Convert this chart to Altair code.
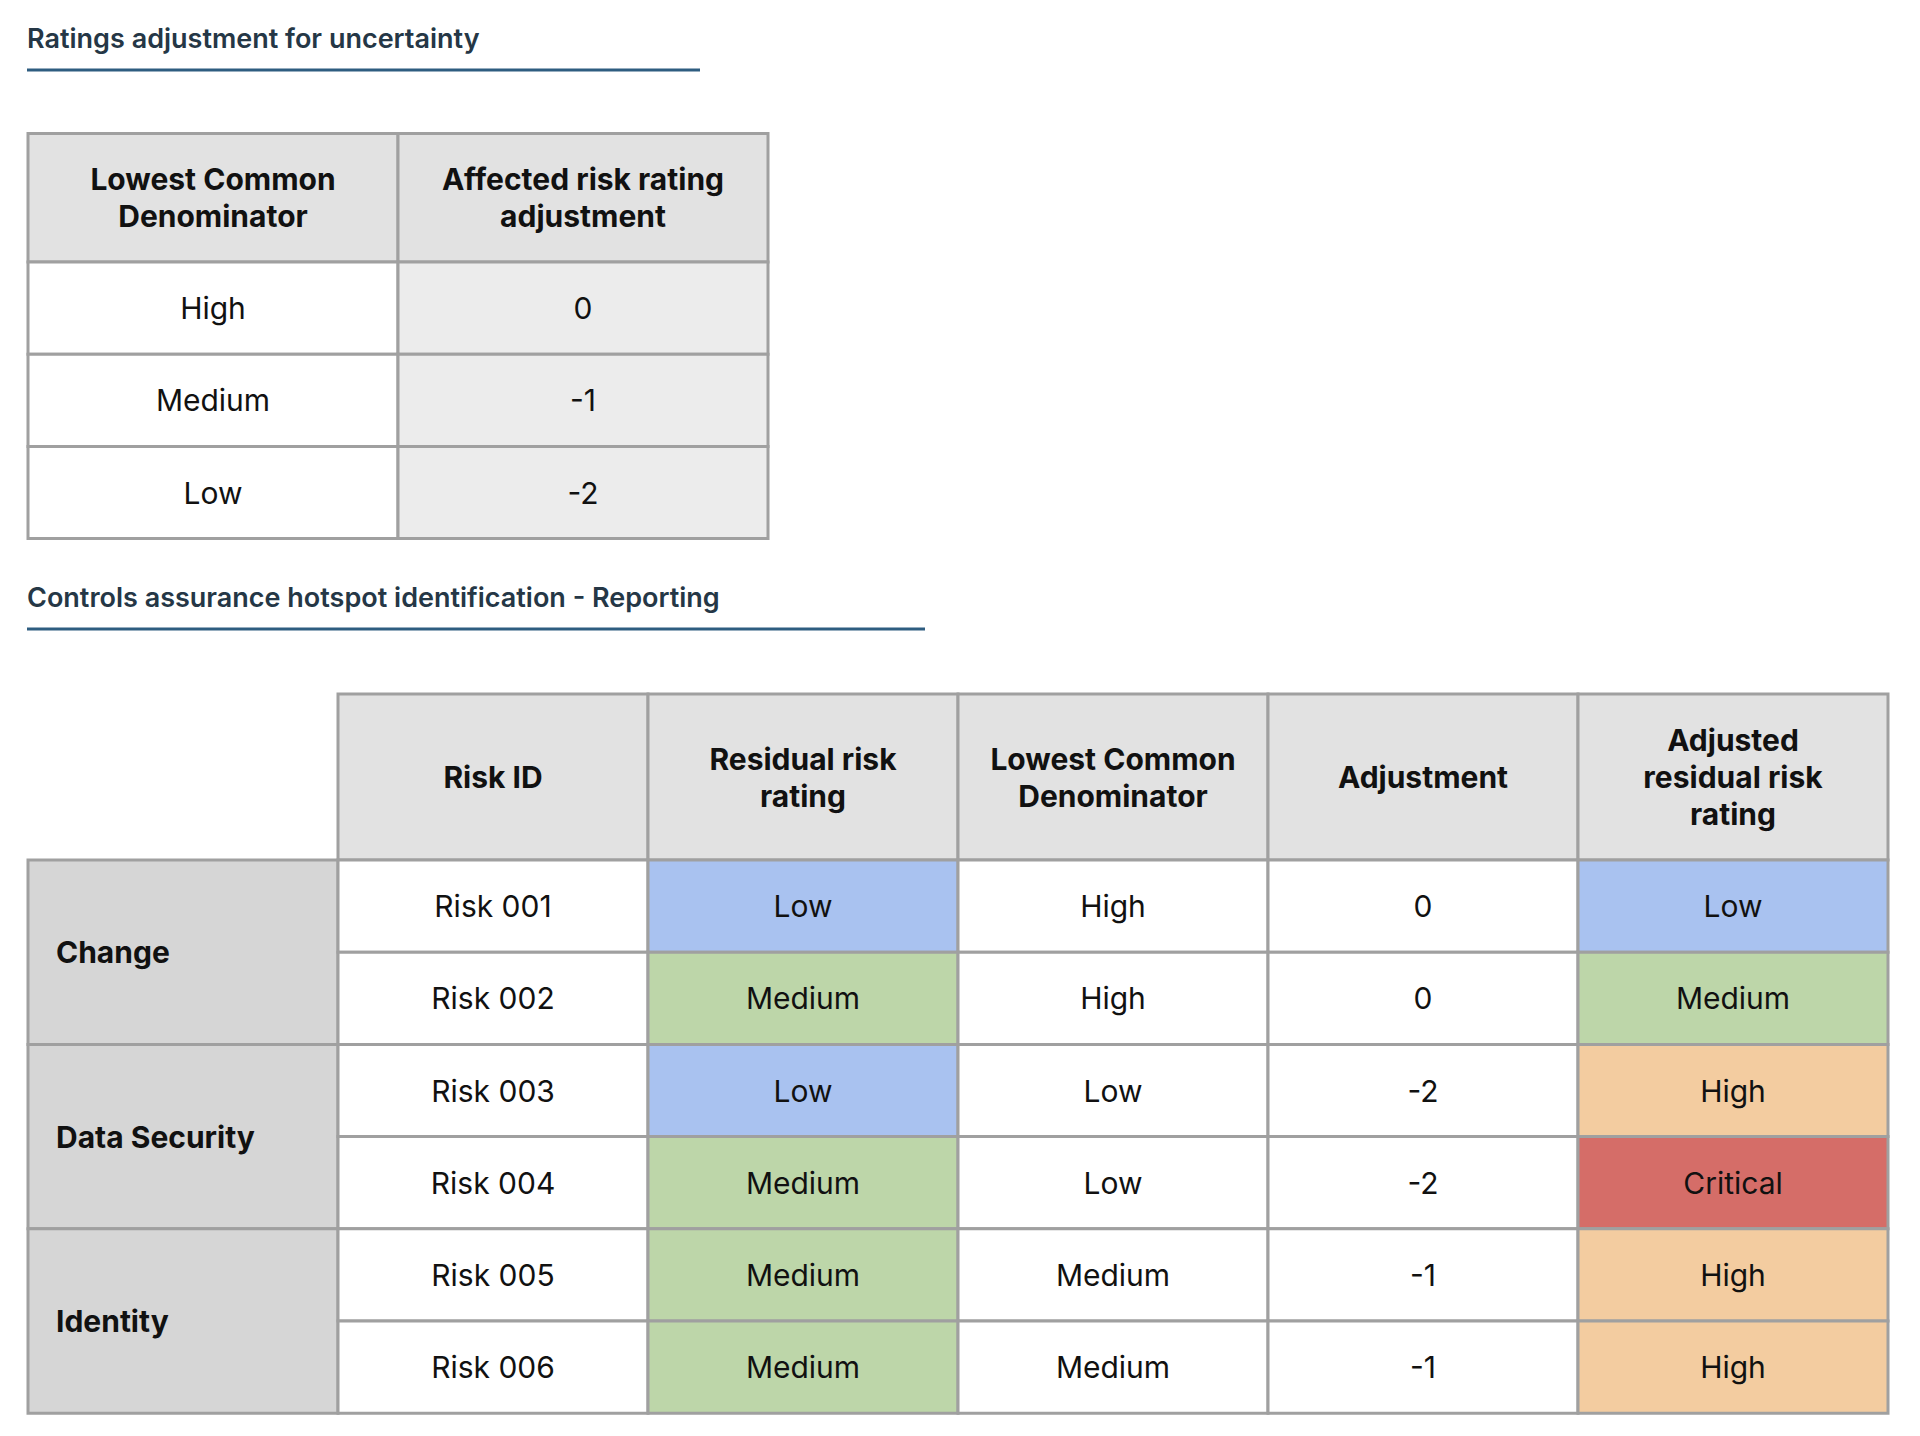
import altair as alt
import pandas as pd

# ---------------- data ----------------
title1 = "Ratings adjustment for uncertainty"
title2 = "Controls assurance hotspot identification - Reporting"

t1_headers = ["Lowest Common\nDenominator", "Affected risk rating\nadjustment"]
t1_lcd = ["High", "Medium", "Low"]
t1_adj = ["0", "-1", "-2"]

t2_headers = ["Risk ID", "Residual risk\nrating", "Lowest Common\nDenominator",
              "Adjustment", "Adjusted\nresidual risk\nrating"]
categories = ["Change", "Data Security", "Identity"]
category_rows = [2, 2, 2]
risk_ids = ["Risk 001", "Risk 002", "Risk 003", "Risk 004", "Risk 005", "Risk 006"]
residual = ["Low", "Medium", "Low", "Medium", "Medium", "Medium"]
lcd = ["High", "High", "Low", "Low", "Medium", "Medium"]
adjustment = ["0", "0", "-2", "-2", "-1", "-1"]
adjusted = ["Low", "Medium", "High", "Critical", "High", "High"]

rating_colors = {"Low": "#a9c2f0", "Medium": "#bdd6a9", "High": "#f3cca0", "Critical": "#d56d68"}

# ---------------- layout (page pixels) ----------------
W, H, M = 1904, 1420, 8
LEFT = 28
T1_TOP, T1_HEAD_H, ROW_H, T1_COL_W = 133.5, 128.5, 92.2, 370
T2_TOP, T2_HEAD_H, T2_COL_W = 694, 166, 310
LINE_H = 37
HEAD_FILL, CAT_FILL, WHITE, T1_BODY2 = "#e2e2e2", "#d6d6d6", "#ffffff", "#ececec"

cells = []
def cell(x0, x1, y0, y1, fill, text, weight="normal", align="center"):
    n = text.count("\n") + 1
    cells.append(dict(x0=x0, x1=x1, y0=y0, y1=y1, fill=fill, text=text,
                      weight=weight, align=align,
                      tx=(x0 + 28) if align == "left" else (x0 + x1) / 2,
                      ty=(y0 + y1) / 2 - (n - 1) * LINE_H / 2 + 2))

# table 1
for j, h in enumerate(t1_headers):
    x0 = LEFT + j * T1_COL_W
    cell(x0, x0 + T1_COL_W, T1_TOP, T1_TOP + T1_HEAD_H, HEAD_FILL, h, "bold")
for i, (a, b) in enumerate(zip(t1_lcd, t1_adj)):
    y0 = T1_TOP + T1_HEAD_H + i * ROW_H
    cell(LEFT, LEFT + T1_COL_W, y0, y0 + ROW_H, WHITE, a)
    cell(LEFT + T1_COL_W, LEFT + 2 * T1_COL_W, y0, y0 + ROW_H, T1_BODY2, b)

# table 2 header
for j, h in enumerate(t2_headers):
    x0 = LEFT + (j + 1) * T2_COL_W
    cell(x0, x0 + T2_COL_W, T2_TOP, T2_TOP + T2_HEAD_H, HEAD_FILL, h, "bold")
# table 2 categories
body_top = T2_TOP + T2_HEAD_H
r = 0
for c, n in zip(categories, category_rows):
    y0 = body_top + r * ROW_H
    cell(LEFT, LEFT + T2_COL_W, y0, y0 + n * ROW_H, CAT_FILL, c, "bold", "left")
    r += n
# table 2 body
for i in range(len(risk_ids)):
    y0 = body_top + i * ROW_H
    vals = [risk_ids[i], residual[i], lcd[i], adjustment[i], adjusted[i]]
    fills = [WHITE, rating_colors[residual[i]], WHITE, WHITE, rating_colors[adjusted[i]]]
    for j, (v, f) in enumerate(zip(vals, fills)):
        x0 = LEFT + (j + 1) * T2_COL_W
        cell(x0, x0 + T2_COL_W, y0, y0 + ROW_H, f, v)

df = pd.DataFrame(cells)

titles = pd.DataFrame({"text": [title1, title2], "x": [27, 27], "y": [39.5, 599],
                       "lx0": [27, 27], "lx1": [700, 925], "ly": [70, 629]})

xs = alt.Scale(domain=[M, M + W], nice=False, zero=False)
ys = alt.Scale(domain=[M, M + H], nice=False, zero=False, reverse=True)

base = alt.Chart(df)
rects = base.mark_rect(stroke="#a0a0a0", strokeWidth=3).encode(
    x=alt.X("x0:Q", scale=xs, axis=None), x2="x1:Q",
    y=alt.Y("y0:Q", scale=ys, axis=None), y2="y1:Q",
    fill=alt.Fill("fill:N", scale=None),
)
FONT = "Inter"
FS = 30
txt_c_norm = base.transform_filter("datum.weight == 'normal'").mark_text(
    font=FONT, fontSize=FS, color="#111111", baseline="middle", align="center", lineBreak="\n", lineHeight=LINE_H
).encode(x=alt.X("tx:Q", scale=xs, axis=None), y=alt.Y("ty:Q", scale=ys, axis=None), text="text:N")
txt_c_bold = base.transform_filter("datum.weight == 'bold' && datum.align == 'center'").mark_text(
    font=FONT, fontSize=FS, fontWeight="bold", color="#111111", baseline="middle", align="center",
    lineBreak="\n", lineHeight=LINE_H
).encode(x=alt.X("tx:Q", scale=xs, axis=None), y=alt.Y("ty:Q", scale=ys, axis=None), text="text:N")
txt_l_bold = base.transform_filter("datum.align == 'left'").mark_text(
    font=FONT, fontSize=FS, fontWeight="bold", color="#111111", baseline="middle", align="left"
).encode(x=alt.X("tx:Q", scale=xs, axis=None), y=alt.Y("ty:Q", scale=ys, axis=None), text="text:N")

tbase = alt.Chart(titles)
ttext = tbase.mark_text(font=FONT, fontSize=27, fontWeight=600, color="#253746",
                        baseline="middle", align="left").encode(
    x=alt.X("x:Q", scale=xs, axis=None), y=alt.Y("y:Q", scale=ys, axis=None), text="text:N")
tline = tbase.mark_rule(color="#2e5d80", strokeWidth=3).encode(
    x=alt.X("lx0:Q", scale=xs, axis=None), x2="lx1:Q",
    y=alt.Y("ly:Q", scale=ys, axis=None))

chart = alt.layer(rects, txt_c_norm, txt_c_bold, txt_l_bold, ttext, tline).properties(
    width=W, height=H, padding=0, autosize=alt.AutoSizeParams(type="none"),
    background="#ffffff"
).configure_view(stroke=None)

chart.save("out.html", embed_options={"renderer": "svg", "actions": False})
